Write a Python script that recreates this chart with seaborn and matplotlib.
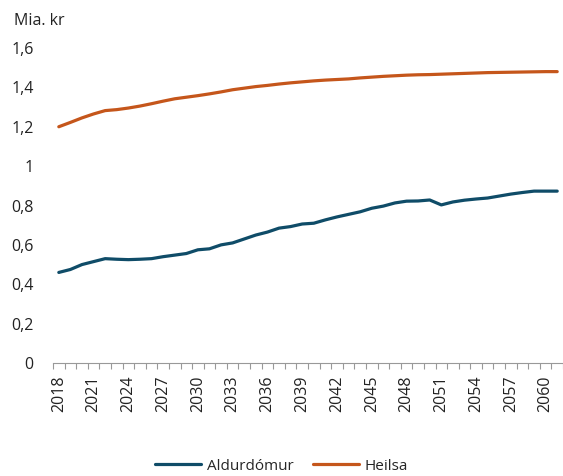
import matplotlib
matplotlib.use('Agg')
import matplotlib.pyplot as plt
import seaborn as sns
import pandas as pd
import numpy as np
from matplotlib.ticker import FixedLocator, FuncFormatter

years = list(range(2018, 2062))
aldurdomur = [0.46, 0.475, 0.50, 0.515, 0.53, 0.527, 0.525, 0.527, 0.53, 0.54,
              0.548, 0.556, 0.575, 0.58, 0.60, 0.61, 0.63, 0.65, 0.665, 0.685,
              0.693, 0.706, 0.71, 0.727, 0.742, 0.755, 0.768, 0.786, 0.797, 0.813,
              0.822, 0.823, 0.828, 0.803, 0.818, 0.827, 0.833, 0.838, 0.848, 0.858,
              0.866, 0.873, 0.873, 0.873]
heilsa = [1.20, 1.222, 1.245, 1.265, 1.282, 1.287, 1.295, 1.305, 1.317, 1.33,
          1.342, 1.35, 1.358, 1.367, 1.377, 1.388, 1.396, 1.404, 1.41, 1.417,
          1.423, 1.428, 1.433, 1.437, 1.44, 1.443, 1.448, 1.452, 1.456, 1.459,
          1.462, 1.464, 1.465, 1.467, 1.469, 1.471, 1.473, 1.475, 1.476, 1.477,
          1.478, 1.479, 1.48, 1.48]
series_names = ['Aldurdómur', 'Heilsa']
colors = ['#0f4c68', '#c5561b']
y_ticks = [0, 0.2, 0.4, 0.6, 0.8, 1.0, 1.2, 1.4, 1.6]

df = pd.DataFrame({
    'idx': list(range(len(years))) * 2,
    'value': aldurdomur + heilsa,
    'series': [series_names[0]] * len(years) + [series_names[1]] * len(years),
})

sns.set_style("white")
plt.rcParams['font.family'] = ['Open Sans', 'DejaVu Sans']
fs = 11.5

fig = plt.figure(figsize=(5.63, 4.76), dpi=100)
ax = fig.add_axes([53 / 563, 113 / 476, 510 / 563, 315 / 476])

sns.lineplot(data=df, x='idx', y='value', hue='series', palette=colors,
             linewidth=2.3, ax=ax, legend=True)

ax.set_xlim(-0.5, len(years) - 0.5)
ax.set_ylim(0, 1.6)
ax.set_xlabel('')
ax.set_ylabel('')

# category labels every 3rd year, tick marks on category boundaries
label_idx = list(range(0, len(years), 3))
ax.xaxis.set_major_locator(FixedLocator(label_idx))
ax.set_xticklabels([str(years[i]) for i in label_idx], rotation=90, color='#222222')
ax.xaxis.set_minor_locator(FixedLocator(np.arange(-0.5, len(years), 1)))
ax.tick_params(axis='x', which='major', length=0, pad=9, labelsize=fs)
ax.tick_params(axis='x', which='minor', length=4, width=0.8, color='#999999',
               direction='out', bottom=True)

ax.set_yticks(y_ticks)
ax.yaxis.set_major_formatter(FuncFormatter(
    lambda v, p: '0' if v == 0 else ('1' if abs(v - 1) < 1e-9 else f'{v:.1f}'.replace('.', ','))))
ax.tick_params(axis='y', length=0, pad=14, labelsize=fs, labelcolor='#222222')

for s in ['top', 'right', 'left']:
    ax.spines[s].set_visible(False)
ax.spines['bottom'].set_color('#999999')
ax.spines['bottom'].set_linewidth(0.8)

fig.text(14 / 563, 1 - 21 / 476, 'Mia. kr', fontsize=fs, va='center', ha='left', color='#222222')

handles, labels = ax.get_legend_handles_labels()
ax.legend(handles, labels, loc='center', bbox_to_anchor=(0.5, 10 / 476),
          bbox_transform=fig.transFigure, ncol=2, frameon=False,
          handlelength=3.0, handletextpad=0.35, columnspacing=1.3, fontsize=11)

fig.savefig('out.png', dpi=100)
